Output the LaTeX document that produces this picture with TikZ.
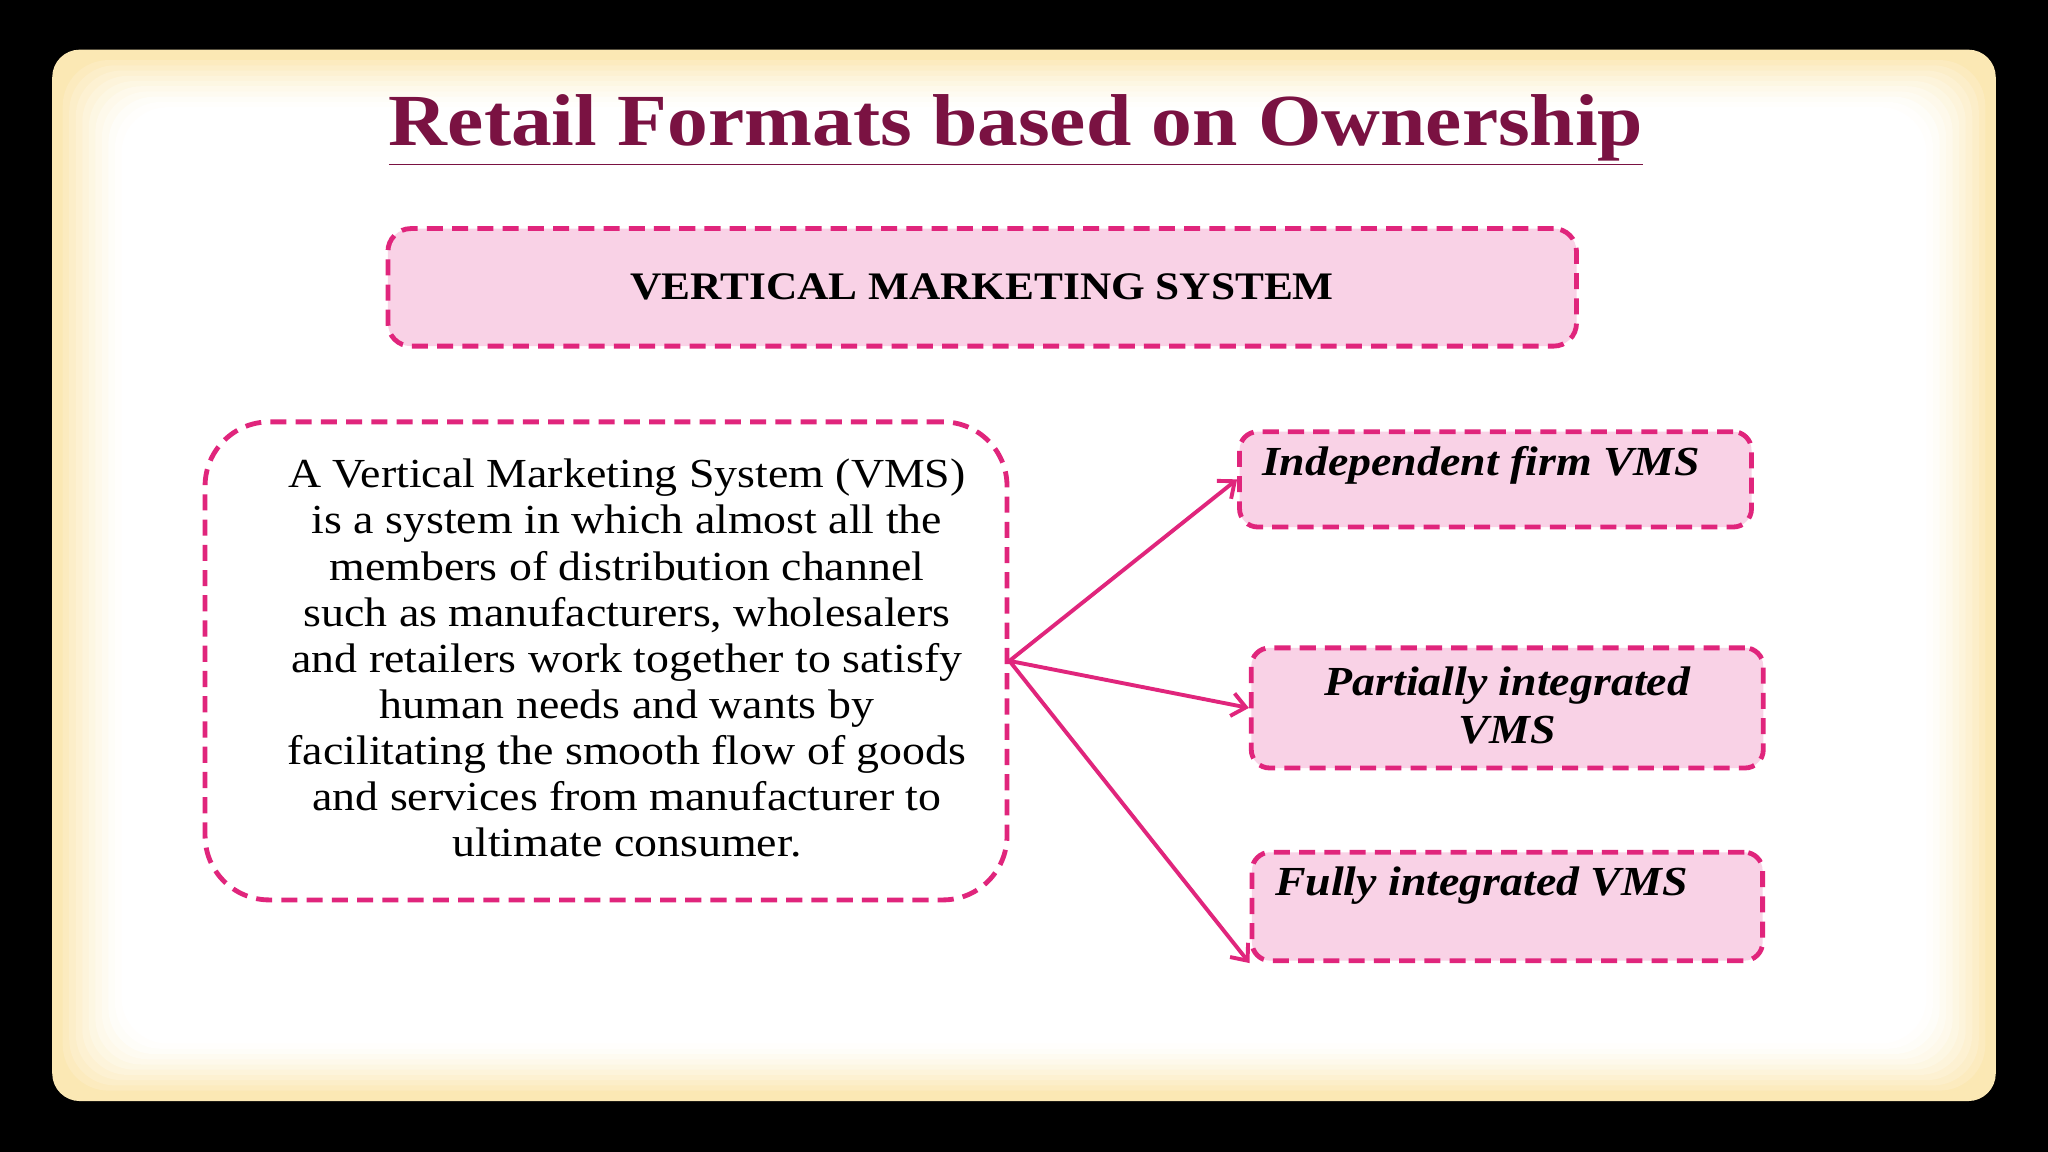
\documentclass[tikz,border=0pt]{standalone}
\usepackage{fontspec}
\setmainfont[FakeStretch=1.11]{Liberation Serif}
\usetikzlibrary{arrows.meta}
\definecolor{titlec}{HTML}{7A1242}
\definecolor{pinkb}{HTML}{E0257C}
\definecolor{pinkf}{HTML}{F9D2E6}
\definecolor{cream}{HTML}{FBE8B4}
\tikzset{
  dbox/.style={draw=pinkb, line width=2.1pt, dash pattern=on 7pt off 4pt},
  arr/.style={draw=pinkb, line width=1.7pt, -{Straight Barb[length=6pt,width=10pt]}},
  rtext/.style={font=\fontsize{18}{21}\selectfont\bfseries\itshape, text=black}
}
\begin{document}
\begin{tikzpicture}[x=0.02cm,y=-0.02cm]
\fill[black] (0,0) rectangle (1568,882);
\useasboundingbox (0,0) rectangle (1568,882);
\fill[cream, rounded corners=12pt] (40,38) rectangle (1528,843);
\foreach \i/\c in {0/15,1/28,2/40,3/52,4/63,5/73,6/82,7/90,8/96,9/100}{
  \fill[white!\c!cream, rounded corners=20pt] (48+\i*5,46+\i*4) rectangle (1520-\i*5,835-\i*4);
}
\node (title) at (778,100) {\fontsize{32}{36}\selectfont\bfseries\color{titlec}\underline{Retail Formats based on Ownership}};
\node[dbox, fill=pinkf, rounded corners=10pt, minimum width=910*0.02cm, minimum height=90*0.02cm] (vms) at (752,220) {\fontsize{17}{20}\selectfont\bfseries VERTICAL MARKETING SYSTEM};
\node[dbox, fill=white, rounded corners=28pt, minimum width=614*0.02cm, minimum height=366*0.02cm] (def) at (464,506) {};
\node[align=center, font=\fontsize{18}{20.1}\selectfont] (deft) at (480,504) {A Vertical Marketing System (VMS)\\is a system in which almost all the\\members of distribution channel\\such as manufacturers, wholesalers\\and retailers work together to satisfy\\human needs and wants by\\facilitating the smooth flow of goods\\and services from manufacturer to\\ultimate consumer.};
\node[dbox, fill=pinkf, rounded corners=8pt, minimum width=392*0.02cm, minimum height=73*0.02cm] (b1) at (1145,367) {};
\node[rtext, anchor=west] (t1) at (960,356) {Independent firm VMS};
\node[dbox, fill=pinkf, rounded corners=8pt, minimum width=392*0.02cm, minimum height=92*0.02cm] (b2) at (1154,542) {};
\node[rtext, align=center] (t2) at (1154,540) {Partially integrated\\VMS};
\node[dbox, fill=pinkf, rounded corners=8pt, minimum width=391*0.02cm, minimum height=83*0.02cm] (b3) at (1154,694) {};
\node[rtext, anchor=west] (t3) at (970,678) {Fully integrated VMS};
\coordinate (src) at (def.east);
\draw[arr] (src) -- (b1.west);
\draw[arr] (src) -- (b2.west);
\draw[arr] (src) -- (b3.south west);
\end{tikzpicture}
\end{document}
